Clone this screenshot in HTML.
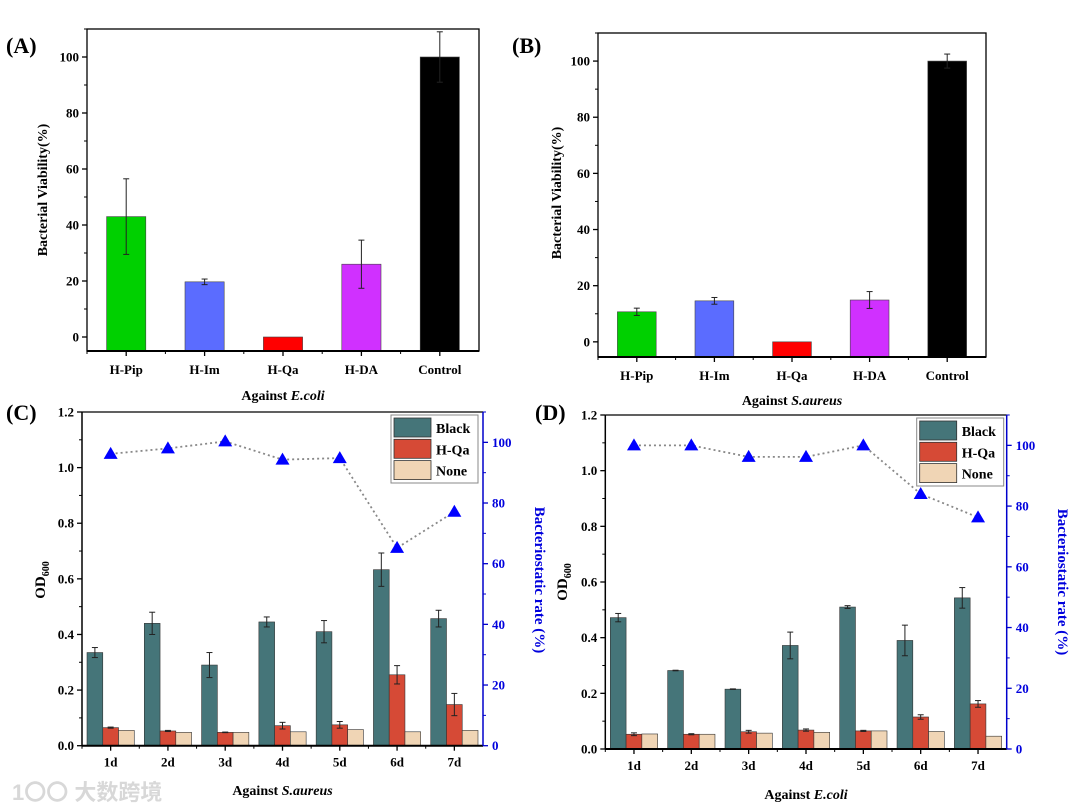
<!DOCTYPE html>
<html><head><meta charset="utf-8"><style>
html,body{margin:0;padding:0;background:#fff;}
svg{display:block;font-family:"Liberation Serif","Noto Serif CJK SC",serif;font-weight:bold;}
</style></head><body>
<svg id="fig" width="1080" height="811" viewBox="0 0 1080 811" xmlns="http://www.w3.org/2000/svg"></svg>
<script>
// ---- data ----
const catsAB = ["H-Pip","H-Im","H-Qa","H-DA","Control"];
const colorsAB = ["#00d000","#5b6cff","#ff0000","#d030ff","#000000"];
const valsA = [43, 19.7, 0, 26, 100];
const errA = [13.5, 1, 0, 8.6, 9];
const valsB = [10.7, 14.6, 0, 14.9, 100];
const errB = [1.3, 1.2, 0.2, 3, 2.5];
const ticksAB = [0, 20, 40, 60, 80, 100];
const days = ["1d","2d","3d","4d","5d","6d","7d"];
const seriesNames = ["Black","H-Qa","None"];
const seriesColors = ["#457579","#d64a36","#f0d5b5"];
const blackC = [0.335,0.44,0.29,0.445,0.41,0.633,0.457];
const blackCErr = [0.018,0.04,0.045,0.018,0.04,0.06,0.03];
const hqaC = [0.065,0.053,0.048,0.072,0.075,0.255,0.148];
const hqaCErr = [0.002,0.002,0.001,0.012,0.012,0.033,0.04];
const noneC = [0.055,0.048,0.048,0.05,0.058,0.05,0.055];
const rateC = [96.2,98,100.3,94.3,94.8,65.2,77.1];
const blackD = [0.472,0.282,0.215,0.372,0.51,0.39,0.543];
const blackDErr = [0.015,0.001,0.001,0.048,0.005,0.055,0.037];
const hqaD = [0.053,0.053,0.062,0.068,0.065,0.115,0.162];
const hqaDErr = [0.005,0.002,0.005,0.004,0.002,0.008,0.012];
const noneD = [0.054,0.053,0.057,0.06,0.065,0.063,0.046];
const rateD = [100,100,96.2,96.2,100,84,76.3];
const ticksOD = [0,0.2,0.4,0.6,0.8,1.0,1.2];
const ticksRate = [0,20,40,60,80,100];

const NS="http://www.w3.org/2000/svg";
const svg=document.getElementById('fig');
function el(tag,attrs,parent,text){const e=document.createElementNS(NS,tag);for(const k in attrs)e.setAttribute(k,attrs[k]);if(text!==undefined)e.textContent=text;(parent||svg).appendChild(e);return e;}

function panelAB(o){
  const g=el('g',{});
  
  
  const y=v=>o.bottom-(v-o.ymin)/(o.ymax-o.ymin)*(o.bottom-o.top);
  const step=(o.right-o.left)/o.cats.length;
  const x=i=>o.left+step*(i+0.5);
  o.vals.forEach((v,i)=>{
    const r=el('rect',{x:x(i)-step*0.25,y:y(v),width:step*0.5,height:o.bottom-y(v),fill:o.colors[i],stroke:'#444','stroke-width':0.6},g);
    
    
    const e=o.err[i];
    if(e>0.3){
      el('line',{x1:x(i),x2:x(i),y1:y(v+e),y2:y(v-e),stroke:'#222','stroke-width':1},g);
      el('line',{x1:x(i)-3,x2:x(i)+3,y1:y(v+e),y2:y(v+e),stroke:'#222','stroke-width':1},g);
      el('line',{x1:x(i)-3,x2:x(i)+3,y1:y(v-e),y2:y(v-e),stroke:'#222','stroke-width':1},g);
    }
  });
  el('rect',{x:o.left,y:o.top,width:o.right-o.left,height:o.bottom-o.top,fill:'none',stroke:'#000','stroke-width':1.3},g);
  el('line',{x1:o.left,x2:o.right,y1:o.bottom,y2:o.bottom,stroke:'#000','stroke-width':2},g);
  o.ticks.forEach(t=>{
    el('line',{x1:o.left-5,x2:o.left,y1:y(t),y2:y(t),stroke:'#000','stroke-width':1.3},g);
    el('line',{x1:o.left-3,x2:o.left,y1:y(t+10),y2:y(t+10),stroke:'#000','stroke-width':1},g);
    el('text',{x:o.left-8,y:y(t)+4.5,'text-anchor':'end','font-size':13},g,String(t));
  });
  o.cats.forEach((c,i)=>{
    el('line',{x1:x(i),x2:x(i),y1:o.bottom,y2:o.bottom+5,stroke:'#000','stroke-width':1.3},g);
    el('line',{x1:o.left+step*i,x2:o.left+step*i,y1:o.bottom,y2:o.bottom+3,stroke:'#000','stroke-width':1},g);
    const t=el('text',{x:x(i),y:o.bottom+23,'text-anchor':'middle','font-size':13},g,c);
    
    
  });
  const yl=el('text',{transform:`translate(${o.ylx},${o.yly}) rotate(-90)`,'text-anchor':'middle','font-size':14},g,'Bacterial Viability(%)');
  
  
  const xl=el('text',{x:(o.left+o.right)/2,y:o.xly,'text-anchor':'middle','font-size':14},g);
  
  
  el('tspan',{},xl,'Against ');el('tspan',{'font-style':'italic'},xl,o.species);
  const pl=el('text',{x:o.plx,y:o.ply,'font-size':22},g,o.label);
  
  
}

function panelCD(o){
  const g=el('g',{});
  
  
  const y=v=>o.bottom-v/1.2*(o.bottom-o.top);
  const yr=v=>o.bottom-v/110*(o.bottom-o.top);
  const step=(o.right-o.left)/days.length;
  const x=i=>o.left+step*(i+0.5);
  const bw=step*0.275;
  const series=[o.black,o.hqa,o.none];
  const errs=[o.blackErr,o.hqaErr,null];
  days.forEach((d,i)=>{
    series.forEach((s,k)=>{
      const cx=x(i)+(k-1)*bw;
      const r=el('rect',{x:cx-bw/2,y:y(s[i]),width:bw,height:o.bottom-y(s[i]),fill:seriesColors[k],stroke:'#333','stroke-width':0.6},g);
      
      
      if(errs[k]){
        const e=errs[k][i];
        el('line',{x1:cx,x2:cx,y1:y(s[i]+e),y2:y(s[i]-e),stroke:'#222','stroke-width':1},g);
        el('line',{x1:cx-3,x2:cx+3,y1:y(s[i]+e),y2:y(s[i]+e),stroke:'#222','stroke-width':1},g);
        el('line',{x1:cx-3,x2:cx+3,y1:y(s[i]-e),y2:y(s[i]-e),stroke:'#222','stroke-width':1},g);
      }
    });
  });
  // rate line
  const pts=o.rate.map((r,i)=>x(i)+','+yr(r)).join(' ');
  el('polyline',{points:pts,fill:'none',stroke:'#888','stroke-width':1.8,'stroke-dasharray':'2,3'},g);
  o.rate.forEach((r,i)=>{
    const px=x(i),py=yr(r);
    const t=el('polygon',{points:`${px},${py-7} ${px-7},${py+5} ${px+7},${py+5}`,fill:'#0000ff'},g);
    
    
  });
  // frame
  el('line',{x1:o.left,x2:o.right,y1:o.top,y2:o.top,stroke:'#000','stroke-width':1.3},g);
  el('line',{x1:o.left,x2:o.left,y1:o.top,y2:o.bottom,stroke:'#000','stroke-width':1.5},g);
  el('line',{x1:o.left,x2:o.right,y1:o.bottom,y2:o.bottom,stroke:'#000','stroke-width':2},g);
  el('line',{x1:o.right,x2:o.right,y1:o.top,y2:o.bottom,stroke:'#0000cc','stroke-width':1.5},g);
  ticksOD.forEach(t=>{
    el('line',{x1:o.left-5,x2:o.left,y1:y(t),y2:y(t),stroke:'#000','stroke-width':1.3},g);
    if(t<1.2)el('line',{x1:o.left-3,x2:o.left,y1:y(t+0.1),y2:y(t+0.1),stroke:'#000','stroke-width':1},g);
    el('text',{x:o.left-8,y:y(t)+4.5,'text-anchor':'end','font-size':13},g,t.toFixed(1));
  });
  ticksRate.forEach(t=>{
    el('line',{x1:o.right,x2:o.right+5,y1:yr(t),y2:yr(t),stroke:'#0000cc','stroke-width':1.3},g);
    el('line',{x1:o.right,x2:o.right+3,y1:yr(t+10),y2:yr(t+10),stroke:'#0000cc','stroke-width':1},g);
    el('text',{x:o.right+9,y:yr(t)+4.5,'font-size':13,fill:'#0000dd'},g,String(t));
  });
  days.forEach((d,i)=>{
    el('line',{x1:x(i),x2:x(i),y1:o.bottom,y2:o.bottom+5,stroke:'#000','stroke-width':1.3},g);
    el('line',{x1:o.left+step*i,x2:o.left+step*i,y1:o.bottom,y2:o.bottom+3,stroke:'#000','stroke-width':1},g);
    const t=el('text',{x:x(i),y:o.bottom+21,'text-anchor':'middle','font-size':13},g,d);
    
    
  });
  // legend
  const lg=el('g',{},g);
  
  
  el('rect',{x:o.lgx,y:o.lgy,width:87,height:68,fill:'#fff',stroke:'#888','stroke-width':1},lg);
  seriesNames.forEach((n,k)=>{
    const e=el('g',{},lg);
    
    
    el('rect',{x:o.lgx+3,y:o.lgy+3+k*21.3,width:37,height:19,fill:seriesColors[k],stroke:'#333','stroke-width':0.8},e);
    el('text',{x:o.lgx+45,y:o.lgy+18+k*21.3,'font-size':14},e,n);
  });
  const yl=el('text',{transform:`translate(${o.ylx},${o.yly}) rotate(-90)`,'text-anchor':'middle','font-size':15},g);
  
  
  el('tspan',{},yl,'OD');el('tspan',{'font-size':10,dy:4},yl,'600');
  const yr2=el('text',{transform:`translate(${o.yrx},${o.yly}) rotate(90)`,'text-anchor':'middle','font-size':15,fill:'#0000dd'},g,'Bacteriostatic rate (%)');
  
  
  const xl=el('text',{x:(o.left+o.right)/2,y:o.xly,'text-anchor':'middle','font-size':14},g);
  
  
  el('tspan',{},xl,'Against ');el('tspan',{'font-style':'italic'},xl,o.species);
  const pl=el('text',{x:o.plx,y:o.ply,'font-size':22},g,o.label);
  
  
}

panelAB({name:'panel-a',left:87,right:479,top:29,bottom:351,ymin:-5,ymax:110,cats:catsAB,colors:colorsAB,vals:valsA,err:errA,ticks:ticksAB,ylx:47,yly:190,xly:400,species:'E.coli',label:'(A)',plx:6,ply:53});
panelAB({name:'panel-b',left:598,right:986,top:33,bottom:357,ymin:-5.4,ymax:110,cats:catsAB,colors:colorsAB,vals:valsB,err:errB,ticks:ticksAB,ylx:561,yly:193,xly:405,species:'S.aureus',label:'(B)',plx:512,ply:53});
panelCD({name:'panel-c',left:82,right:483,top:412,bottom:745.7,black:blackC,blackErr:blackCErr,hqa:hqaC,hqaErr:hqaCErr,none:noneC,rate:rateC,lgx:391,lgy:415,ylx:45,yrx:535,yly:580,xly:795,species:'S.aureus',label:'(C)',plx:6,ply:420});
panelCD({name:'panel-d',left:605.3,right:1006.7,top:415,bottom:749,black:blackD,blackErr:blackDErr,hqa:hqaD,hqaErr:hqaDErr,none:noneD,rate:rateD,lgx:916.7,lgy:418,ylx:567,yrx:1058,yly:582,xly:799,species:'E.coli',label:'(D)',plx:535,ply:420});

const wm=el('text',{x:12,y:800,'font-size':22,fill:'#d8d8d8','font-family':'"Liberation Sans","Noto Sans CJK SC",sans-serif'},svg,'1〇〇 大数跨境');


</script>
</body></html>
